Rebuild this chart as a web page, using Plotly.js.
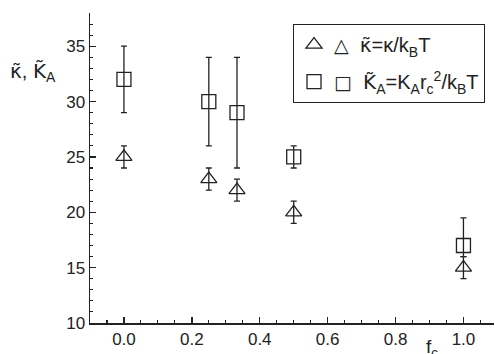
<!DOCTYPE html>
<html><head><meta charset="utf-8">
<script src="https://cdn.plot.ly/plotly-3.0.1.min.js"></script>
<style>body{margin:0;background:#fff}#c{width:495px;height:354px}</style>
</head><body><div id="c"></div>
<script>
const fc = [0.0, 0.25, 0.333, 0.5, 1.0];
const kappa = [25, 23, 22, 20, 15];
const kappaErrPlus = [1, 1, 1, 1, 1];
const kappaErrMinus = [1, 1, 1, 1, 1];
const KA = [32, 30, 29, 25, 17];
const KAErrPlus = [3, 4, 5, 1, 2.5];
const KAErrMinus = [3, 4, 5, 1, 1];
const xTicks = [0.0, 0.2, 0.4, 0.6, 0.8, 1.0];
const xTickText = ['0.0', '0.2', '0.4', '0.6', '0.8', '1.0'];
const yTicks = [10, 15, 20, 25, 30, 35];

const ink = '#222';
const fam = 'Liberation Sans, Arial, sans-serif';
const font = {family: fam, size: 17, color: ink};
const dv = (s) => '<span style="font-family:DejaVu Sans">' + s + '</span>';
const kt = dv('\u03BA\u0303');
const Kt = dv('K\u0303');
const g = (s) => '<span style="font-family:DejaVu Sans;font-size:19px">' + s + '</span>';

const traces = [
  {x: fc, y: kappa, type: 'scatter', mode: 'markers', legendgroup: 'a',
   name: g('\u25B3') + '\u00A0\u00A0' + kt + '=\u03BA/k<sub>B</sub>T',
   marker: {symbol: 'triangle-up-open', size: 14, color: ink, line: {width: 1.3, color: ink}},
   error_y: {type: 'data', symmetric: false, array: kappaErrPlus, arrayminus: kappaErrMinus,
             color: ink, thickness: 1.3, width: 3}},
  {x: fc, y: KA, type: 'scatter', mode: 'markers', legendgroup: 'b',
   name: g('\u25A1') + '\u00A0\u00A0' + Kt + '<sub>A</sub>=K<sub>A</sub>r<sub>c</sub><sup>2</sup>/k<sub>B</sub>T',
   marker: {symbol: 'square-open', size: 14, color: ink, line: {width: 1.3, color: ink}},
   error_y: {type: 'data', symmetric: false, array: KAErrPlus, arrayminus: KAErrMinus,
             color: ink, thickness: 1.3, width: 3}}
];

const layout = {
  width: 495, height: 354,
  margin: {l: 90, r: 1, t: 13, b: 31},
  paper_bgcolor: '#fff', plot_bgcolor: '#fff',
  font: font,
  showlegend: true,
  legend: {x: 0.502, y: 0.965, xanchor: 'left', yanchor: 'top',
           bordercolor: ink, borderwidth: 1.2, bgcolor: '#fff',
           font: {family: fam, size: 20, color: ink},
           tracegroupgap: 8, itemwidth: 30},
  xaxis: {range: [-0.1, 1.09], tickvals: xTicks, ticktext: xTickText,
          ticks: 'inside', ticklen: 6, tickwidth: 1.3, tickcolor: ink,
          showline: true, linecolor: ink, linewidth: 1.5,
          showgrid: false, zeroline: false,
          minor: {dtick: 0.05, ticks: 'inside', ticklen: 3, tickwidth: 1.1, tickcolor: ink, showgrid: false},
          tickfont: font},
  yaxis: {range: [10, 38], tickvals: yTicks,
          ticks: 'inside', ticklen: 6, tickwidth: 1.3, tickcolor: ink,
          showline: true, linecolor: ink, linewidth: 1.5,
          showgrid: false, zeroline: false,
          minor: {dtick: 1, ticks: 'inside', ticklen: 3, tickwidth: 1.1, tickcolor: ink, showgrid: false},
          tickfont: font},
  annotations: [
    {xref: 'paper', yref: 'paper', x: -0.141, y: 0.81, xanchor: 'center', yanchor: 'middle',
     text: kt + ', ' + Kt + '<sub>A</sub>', showarrow: false, font: {family: fam, size: 20, color: ink}},
    {xref: 'paper', yref: 'paper', x: 0.847, y: -0.035, xanchor: 'center', yanchor: 'top',
     text: 'f<sub>c</sub>', showarrow: false, font: {family: fam, size: 19, color: ink}}
  ]
};

Plotly.newPlot('c', traces, layout, {displayModeBar: false, staticPlot: true});
</script>
</body></html>
